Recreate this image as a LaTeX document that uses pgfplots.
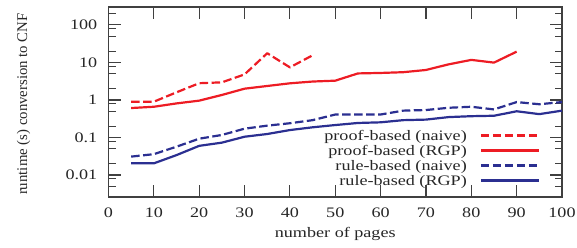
\documentclass[border=0pt]{standalone}
\usepackage{fontspec}
\setmainfont{Liberation Serif}
\newfontfamily\widefont{Liberation Serif}[FakeStretch=1.25]
\usepackage{pgfplots}
\pgfplotsset{compat=1.18}
\definecolor{cred}{RGB}{237,28,36}
\definecolor{cblue}{RGB}{43,47,145}
\definecolor{axgray}{RGB}{64,64,64}
\begin{document}
\begin{tikzpicture}
\begin{axis}[
  scale only axis, width=453.5pt, height=190pt,
  xmin=0, xmax=100, ymin=0.0026, ymax=300,
  ymode=log,
  axis line style={axgray, line width=1.6pt},
  tick style={axgray, line width=1.1pt},
  major tick length=12pt, minor tick length=7pt,
  tick align=inside,
  xtick={0,10,20,30,40,50,60,70,80,90,100},
  xticklabels={0,10,20,30,40,50,60,70,80,90,100},
  ytick={0.01,0.1,1,10,100},
  yticklabels={0.01,0.1,1,10,100},
  minor ytick={0.005,0.008,0.02,0.05,0.08,0.2,0.5,0.8,2,5,8,20,50,80,200},
  ticklabel style={font=\widefont\fontsize{14.5}{17}\selectfont, inner sep=0pt, text=black!85},
  xticklabel style={anchor=north, yshift=-10.5pt},
  yticklabel style={anchor=east, xshift=-11pt},
  xlabel={number of pages},
  xlabel style={font=\widefont\fontsize{14.5}{17}\selectfont, inner sep=0pt, text=black!85,
    at={(axis description cs:0.5,0)}, anchor=base, yshift=-40pt},
  ylabel={runtime (s) conversion to CNF},
  ylabel style={font=\fontsize{14.8}{17}\selectfont, inner sep=0pt, text=black!85,
    at={(axis description cs:-0.1874,0.489)}, anchor=center},
  legend cell align=right, legend plot pos=right,
  legend style={draw=none, fill=none, font=\widefont\fontsize{14.5}{17}\selectfont,
    text=black!85, inner sep=0pt, outer sep=0pt,
    at={(1,0)}, anchor=south east, xshift=-22pt, yshift=9pt,
    column sep=13pt, row sep=0pt,
    nodes={inner sep=0pt, text height=12pt, text depth=3pt}},
  legend image code/.code={\draw[#1] (0pt,0pt) -- (58pt,0pt);},
  every axis plot/.append style={line width=2.2pt, line join=round},
]
\addplot[cred, dash pattern=on 8.5pt off 3.5pt] coordinates {
  (5,0.9)(10,0.9)(15,1.6)(20,2.8)(25,2.95)(30,4.8)(35,17.6)(40,7.4)(45,15.5)};
\addlegendentry{proof-based (naive)}
\addplot[cred] coordinates {
  (5,0.61)(10,0.66)(15,0.81)(20,0.96)(25,1.36)(30,2.0)(35,2.36)(40,2.78)(45,3.1)
  (50,3.27)(55,5.1)(60,5.25)(65,5.5)(70,6.3)(75,8.9)(80,11.7)(85,9.9)(90,19.4)};
\addlegendentry{proof-based (RGP)}
\addplot[cblue, dash pattern=on 8.5pt off 3.5pt] coordinates {
  (5,0.031)(10,0.036)(15,0.057)(20,0.093)(25,0.117)(30,0.172)(35,0.207)(40,0.24)
  (45,0.29)(50,0.41)(55,0.41)(60,0.41)(65,0.52)(70,0.54)(75,0.62)(80,0.66)
  (85,0.56)(90,0.88)(95,0.77)(100,0.88)};
\addlegendentry{rule-based (naive)}
\addplot[cblue] coordinates {
  (5,0.0205)(10,0.0205)(15,0.034)(20,0.06)(25,0.073)(30,0.105)(35,0.124)(40,0.158)
  (45,0.187)(50,0.215)(55,0.244)(60,0.254)(65,0.29)(70,0.30)(75,0.35)(80,0.37)
  (85,0.38)(90,0.50)(95,0.42)(100,0.52)};
\addlegendentry{rule-based (RGP)}
\coordinate (SW) at (rel axis cs:0,0);
\end{axis}
\pgfresetboundingbox
\path (SW) ++(-108.5pt,-50pt) rectangle ++(577pt,247pt);
\end{tikzpicture}
\end{document}
